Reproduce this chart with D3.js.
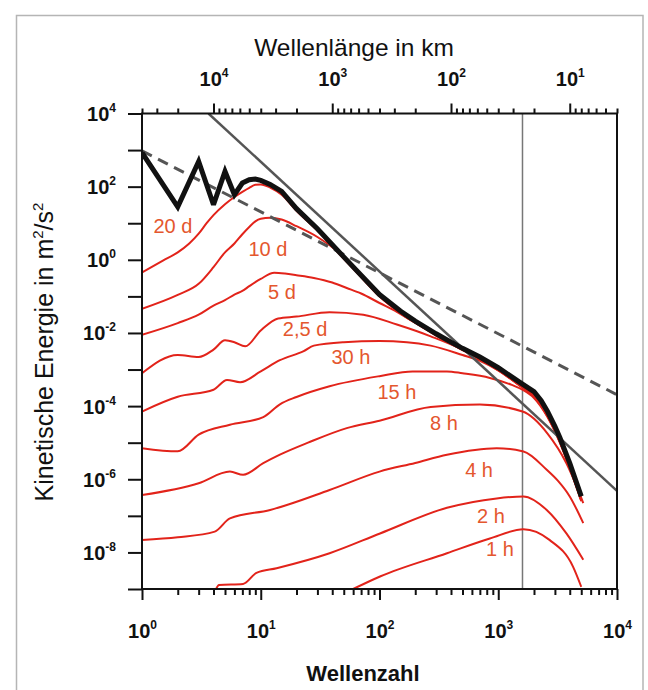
<!DOCTYPE html>
<html><head><meta charset="utf-8">
<script src="https://cdn.jsdelivr.net/npm/d3@7"></script>
<style>body{margin:0;background:#fff}svg{display:block}</style>
</head><body>
<svg id="c" width="648" height="690"></svg>
<script>
// ---------- data (wavenumber k, kinetic energy E in m^2/s^2) ----------
const totalSpectrum = [[1,850],[2,28],[3,490],[4,32],[5,260],[6,60],[7,126],[8,155],[9,162],[10,148],[12,115],[15,74],[20,25],[30,7.1],[50,1.2],[70,0.38],[100,0.112],[150,0.040],[200,0.021],[300,9.5e-3],[400,5.6e-3],[500,3.8e-3],[700,2.2e-3],[1000,1.12e-3],[1300,6.3e-4],[1600,4.0e-4],[2000,2.5e-4],[2300,1.4e-4],[2600,7.1e-5],[3000,2.8e-5],[3300,1.4e-5],[4000,2.75e-6],[5000,3.4e-7]];
const spec20d = [[1,0.45],[1.5,0.95],[2,1.6],[2.5,2.8],[3,5.2],[3.5,10],[4,16.6],[5,33],[6,52],[7,72],[8,93],[9,112],[10,115],[12,95],[15,60],[20,22],[30,6.3],[50,1.07],[70,0.34],[100,0.1],[150,0.035],[200,0.019],[300,8.7e-3],[400,5.1e-3],[500,3.5e-3],[700,2.0e-3],[1000,1.0e-3],[1600,3.4e-4],[2000,2.0e-4],[2600,5.6e-5],[3300,1.1e-5],[4000,2.2e-6],[5000,2.8e-7]];
const spec10d = [[1,0.046],[2,0.11],[3,0.22],[4,0.63],[5,1.6],[6,2.8],[7,5.0],[8,7.9],[9,11.2],[10,13.2],[12,14.1],[15,12.6],[20,8.3],[30,4.2],[45,1.6],[70,0.34],[100,0.1],[150,0.035],[200,0.019],[300,8.5e-3],[400,5.0e-3],[500,3.4e-3],[700,1.95e-3],[1000,9.8e-4],[1600,3.3e-4],[2000,1.95e-4],[2600,5.5e-5],[3300,1.1e-5],[4000,2.2e-6],[5000,2.75e-7]];
const spec5d = [[1,8.9e-3],[2,0.0186],[3,0.0316],[4,0.056],[5,0.079],[6,0.112],[7,0.141],[8,0.19],[10,0.30],[13,0.44],[16,0.42],[20,0.38],[28,0.32],[40,0.24],[53,0.17],[70,0.12],[100,0.066],[140,0.038],[190,0.021],[250,0.0126],[320,7.9e-3],[500,3.5e-3],[700,2.0e-3],[1000,1.0e-3],[1600,3.3e-4],[2000,1.95e-4],[2600,5.5e-5],[3300,1.1e-5],[4000,2.2e-6],[5000,2.75e-7]];
const spec2_5d = [[1,7.9e-4],[2,2.5e-3],[3,2.2e-3],[4,3.5e-3],[5,6.3e-3],[6,5.6e-3],[7.4,4.3e-3],[10,0.0117],[14,0.025],[20,0.028],[38,0.037],[73,0.0316],[140,0.017],[270,8.1e-3],[500,3.5e-3],[700,1.9e-3],[1000,9.5e-4],[1600,3.2e-4],[2000,1.9e-4],[2600,5.4e-5],[3300,1.07e-5],[4000,2.1e-6],[5000,2.7e-7]];
const spec30h = [[1,7.1e-5],[2,1.8e-4],[4,2.8e-4],[5.2,5.2e-4],[6.7,4.5e-4],[10,8.9e-4],[14.5,1.8e-3],[23,3.2e-3],[28,4.5e-3],[50,5.6e-3],[100,6.0e-3],[170,5.6e-3],[270,4.5e-3],[500,2.5e-3],[700,1.74e-3],[1000,9.5e-4],[1500,3.8e-4],[2000,1.8e-4],[2600,5.2e-5],[3300,1.05e-5],[4000,2.1e-6],[5000,2.6e-7]];
const spec15h = [[1,7.1e-6],[2,5.8e-6],[3,1.66e-5],[5.5,3.1e-5],[10.5,5.0e-5],[14.5,1.12e-4],[20,1.78e-4],[38,3.5e-4],[100,6.6e-4],[190,8.9e-4],[370,8.9e-4],[500,7.9e-4],[850,5.9e-4],[1300,3.8e-4],[1600,2.8e-4],[2000,1.66e-4],[2600,5.0e-5],[3300,1.0e-5],[4000,2.0e-6],[5000,2.5e-7]];
const spec8h = [[1,3.7e-7],[3,7.8e-7],[5.5,1.62e-6],[7.1,1.32e-6],[10.5,2.75e-6],[14.5,4.7e-6],[25,1.0e-5],[53,2.5e-5],[100,4.0e-5],[270,9.5e-5],[700,1.1e-4],[1600,7.1e-5],[2600,1.78e-5],[3750,2.75e-6],[5200,2.24e-7]];
const spec4h = [[1,2.2e-8],[2,2.6e-8],[4.1,3.7e-8],[5.5,8.5e-8],[12,1.45e-7],[38,5.1e-7],[100,1.62e-6],[200,2.8e-6],[370,4.7e-6],[970,7.1e-6],[1630,5.75e-6],[2560,1.82e-6],[3200,8.9e-7],[4000,3.4e-7],[5200,6.3e-8]];
const spec2h = [[4.2,1.0e-9],[4.45,1.29e-9],[7.1,1.38e-9],[9.2,2.75e-9],[13.6,3.7e-9],[38,9.5e-9],[101,3.3e-8],[370,1.66e-7],[970,3.0e-7],[1630,3.4e-7],[2560,1.45e-7],[3750,3.3e-8],[5200,6.3e-9]];
const spec1h = [[60,1.0e-9],[101,2.2e-9],[370,9.5e-9],[850,2.4e-8],[1630,4.3e-8],[2700,2.2e-8],[4260,4.1e-9],[5000,1.15e-9]];

const redSeries = [spec20d, spec10d, spec5d, spec2_5d, spec30h, spec15h, spec8h, spec4h, spec2h, spec1h];
const seriesLabels = ["20 d","10 d","5 d","2,5 d","30 h","15 h","8 h","4 h","2 h","1 h"];
const labelK = [1.82, 11.5, 15.1, 23.6, 57.5, 140, 349, 689, 869, 1035];
const labelE = [8.4, 1.98, 0.13, 0.0129, 2.3e-3, 2.45e-4, 3.5e-5, 1.8e-6, 1.0e-7, 1.26e-8];

const slopeMinus3 = [[3.63,1e4],[1e4,4.8e-7]];      // k^-3 reference line
const slopeMinus53 = [[1,950],[1e4,2.05e-4]];        // k^-5/3 reference line
const cutoffK = 1600;

const xTickExps = [0,1,2,3,4];
const yTickExps = [4,3,2,1,0,-1,-2,-3,-4,-5,-6,-7,-8,-9];
const yLabelExps = [4,2,0,-2,-4,-6,-8];
const lambdaTickExps = [1,2,3,4];
const earthCircumferenceKm = 40000;

// ---------- layout ----------
const m = {l:142, r:617, t:113.5, b:589};
const FONT = "'Liberation Sans', Arial, Helvetica, sans-serif";
const x = d3.scaleLog().domain([1,1e4]).range([m.l,m.r]);
const y = d3.scaleLog().domain([1e-9,1e4]).range([m.b,m.t]);
const xTop = d3.scaleLog().domain([earthCircumferenceKm/1, earthCircumferenceKm/1e4]).range([m.l,m.r]);

const svg = d3.select('#c');
svg.append('rect').attr('x',16.5).attr('y',15.5).attr('width',626.5).attr('height',700)
  .attr('fill','none').attr('stroke','#b5b5b5').attr('stroke-width',1.5);

svg.append('clipPath').attr('id','clip').append('rect')
  .attr('x',m.l).attr('y',m.t).attr('width',m.r-m.l).attr('height',m.b-m.t);
const plot = svg.append('g').attr('clip-path','url(#clip)');

const isMajor = v => { const l=Math.log10(v); return Math.abs(l-Math.round(l))<1e-6; };
function supLabel(t, exp){
  t.text(null);
  t.append('tspan').text('10');
  t.append('tspan').attr('dy',-9).attr('font-size',12).text(exp);
}

// vertical cutoff line
plot.append('line').attr('x1',x(cutoffK)).attr('x2',x(cutoffK)).attr('y1',m.t).attr('y2',m.b)
  .attr('stroke','#777').attr('stroke-width',1.5);

const smooth = d3.line().x(d=>x(d[0])).y(d=>y(d[1])).curve(d3.curveMonotoneX);
const straight = d3.line().x(d=>x(d[0])).y(d=>y(d[1]));

plot.selectAll('path.red').data(redSeries).join('path').attr('class','red')
  .attr('d',smooth).attr('fill','none').attr('stroke','#e2231a').attr('stroke-width',2)
  .attr('stroke-linejoin','round');

plot.append('path').attr('d',straight(slopeMinus53)).attr('fill','none')
  .attr('stroke','#555').attr('stroke-width',3).attr('stroke-dasharray','11,7');
plot.append('path').attr('d',straight(slopeMinus3)).attr('fill','none')
  .attr('stroke','#555').attr('stroke-width',2.5);

plot.append('path').attr('d',straight(totalSpectrum)).attr('fill','none')
  .attr('stroke','#111').attr('stroke-width',5).attr('stroke-linejoin','miter').attr('stroke-miterlimit',3);

// series labels
svg.selectAll('text.lab').data(seriesLabels).join('text').attr('class','lab')
  .attr('x',(d,i)=>x(labelK[i])).attr('y',(d,i)=>y(labelE[i])).attr('dy','0.36em')
  .attr('text-anchor','middle').attr('font-family',FONT).attr('font-size',20)
  .attr('fill','#e4572e').text(d=>d);

// ---------- axes ----------
const xTickVals = [];
xTickExps.forEach(e=>{ for(let k=1;k<=9;k++){ const v=k*Math.pow(10,e); if(v<=1e4) xTickVals.push(v);} });
const gx = svg.append('g').attr('transform',`translate(0,${m.b})`)
  .call(d3.axisBottom(x).tickValues(xTickVals).tickSizeOuter(0).tickFormat(()=>''));
gx.select('.domain').remove();
gx.selectAll('.tick line').attr('y2',d=>isMajor(d)?11:6).attr('stroke','#111').attr('stroke-width',2);
gx.selectAll('.tick text').attr('font-family',FONT).attr('font-size',20).attr('font-weight','bold')
  .attr('fill','#111').attr('y',49).attr('dy',null)
  .each(function(d){ if(isMajor(d)) supLabel(d3.select(this), Math.round(Math.log10(d))); });

const yTickVals = yTickExps.map(e=>Math.pow(10,e));
const gy = svg.append('g').attr('transform',`translate(${m.l},0)`)
  .call(d3.axisLeft(y).tickValues(yTickVals).tickSizeOuter(0).tickSize(14).tickFormat(()=>''));
gy.select('.domain').remove();
gy.selectAll('.tick line').attr('stroke','#111').attr('stroke-width',2);
gy.selectAll('.tick text').attr('font-family',FONT).attr('font-size',20).attr('font-weight','bold')
  .attr('fill','#111').attr('x',-26).attr('dy',null).attr('y',7)
  .each(function(d){ const e=Math.round(Math.log10(d)); if(yLabelExps.includes(e)) supLabel(d3.select(this), e); });

const topTickVals = [];
[0,1,2,3,4].forEach(e=>{ for(let k=1;k<=9;k++){ const v=k*Math.pow(10,e); if(v>=4 && v<=40000) topTickVals.push(v);} });
const gt = svg.append('g').attr('transform',`translate(0,${m.t})`)
  .call(d3.axisTop(xTop).tickValues(topTickVals).tickSizeOuter(0).tickFormat(()=>''));
gt.select('.domain').remove();
gt.selectAll('.tick line').attr('y2',d=>isMajor(d)?-10:-5).attr('stroke','#111').attr('stroke-width',2);
gt.selectAll('.tick text').attr('font-family',FONT).attr('font-size',20).attr('font-weight','bold')
  .attr('fill','#111').attr('y',-28).attr('dy',null)
  .each(function(d){ const e=Math.round(Math.log10(d)); if(isMajor(d) && lambdaTickExps.includes(e)) supLabel(d3.select(this), e); });

// frame
svg.append('rect').attr('x',m.l).attr('y',m.t).attr('width',m.r-m.l).attr('height',m.b-m.t)
  .attr('fill','none').attr('stroke','#111').attr('stroke-width',2);

// titles
svg.append('text').attr('x',354).attr('y',56).attr('text-anchor','middle')
  .attr('font-family',FONT).attr('font-size',24.5).attr('fill','#111').text('Wellenlänge in km');
svg.append('text').attr('x',363).attr('y',681).attr('text-anchor','middle')
  .attr('font-family',FONT).attr('font-size',22).attr('font-weight','bold').attr('fill','#111').text('Wellenzahl');
const yt = svg.append('text').attr('transform','translate(53,352) rotate(-90)').attr('text-anchor','middle')
  .attr('font-family',FONT).attr('font-size',25).attr('fill','#111');
yt.append('tspan').text('Kinetische Energie in m');
yt.append('tspan').attr('dy',-10).attr('font-size',15).text('2');
yt.append('tspan').attr('dy',10).text('/s');
yt.append('tspan').attr('dy',-10).attr('font-size',15).text('2');
</script>
</body></html>
